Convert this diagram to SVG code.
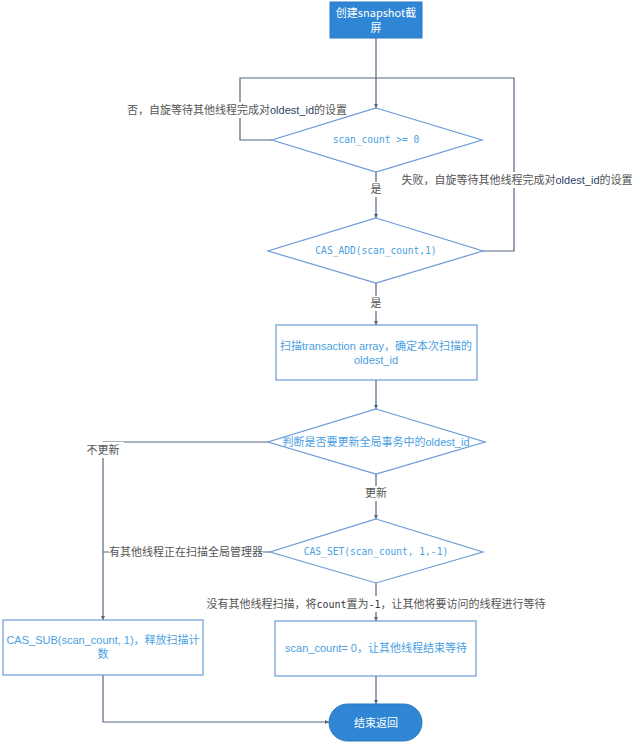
<svg xmlns="http://www.w3.org/2000/svg" width="640" height="744" viewBox="0 0 640 744">
<defs>
<marker id="arr" markerWidth="4" markerHeight="4" refX="4" refY="2" orient="auto" markerUnits="userSpaceOnUse">
<path d="M0,0 L4,2 L0,4 z" fill="#55677f"/>
</marker>
<style>
.bg{fill:#ffffff}
.conn{fill:none;stroke:#55677f;stroke-width:1.2}
.shape{fill:#ffffff;stroke:#6a9bd6;stroke-width:1.2}
.term{fill:#2f86d4;stroke:#2a78c0;stroke-width:1}
.wt{font-family:"Noto Sans CJK SC","Liberation Sans",sans-serif;font-size:11px;fill:#ffffff;text-anchor:middle}
.nt{font-family:"Liberation Sans","Noto Sans CJK SC",sans-serif;font-size:11px;fill:#4a9fe2;text-anchor:middle}
.mono{font-family:"DejaVu Sans Mono",monospace;font-size:9.6px;fill:#4a9fe2;text-anchor:middle}
.lab{font-family:"Noto Sans CJK SC","Liberation Sans",sans-serif;font-size:11px;fill:#555555;text-anchor:middle}
.lbg{fill:#ffffff}
.ol{font-family:"Liberation Sans",sans-serif;fill:#2b3f6a}
.lm{font-family:"DejaVu Sans Mono",monospace;font-size:10px;fill:#333333}
</style>
</defs>
<rect class="bg" x="0" y="0" width="640" height="744"/>

<g id="connectors">
<path class="conn" d="M376,38 V108" marker-end="url(#arr)"/>
<path class="conn" d="M272,140 H240 V78 H376"/>
<path class="conn" d="M483,251 H514 V78 H376"/>
<path class="conn" d="M376,172 V218" marker-end="url(#arr)"/>
<path class="conn" d="M376,283 V325" marker-end="url(#arr)"/>
<path class="conn" d="M376,380 V409" marker-end="url(#arr)"/>
<path class="conn" d="M268,442 H103 V620" marker-end="url(#arr)"/>
<path class="conn" d="M376,474 V519" marker-end="url(#arr)"/>
<path class="conn" d="M270,552 H103"/>
<path class="conn" d="M376,583 V621" marker-end="url(#arr)"/>
<path class="conn" d="M103,675 V722 H329" marker-end="url(#arr)"/>
<path class="conn" d="M376,676 V704" marker-end="url(#arr)"/>
</g>

<g id="labels">
<rect class="lbg" x="128" y="102" width="218" height="16"/>
<text class="lab" x="237" y="114">否，自旋等待其他线程完成对<tspan class="ol">oldest_id</tspan>的设置</text>
<rect class="lbg" x="402" y="172" width="232" height="16"/>
<text class="lab" x="517" y="184">失败，自旋等待其他线程完成对<tspan class="ol">oldest_id</tspan>的设置</text>
<rect class="lbg" x="368" y="182" width="16" height="15"/>
<text class="lab" x="376" y="193">是</text>
<rect class="lbg" x="368" y="296" width="16" height="15"/>
<text class="lab" x="376" y="307">是</text>
<rect class="lbg" x="82" y="442" width="42" height="16"/>
<text class="lab" x="103" y="454">不更新</text>
<rect class="lbg" x="364" y="486" width="24" height="15"/>
<text class="lab" x="376" y="497">更新</text>
<rect class="lbg" x="109" y="544" width="154" height="16"/>
<text class="lab" x="186" y="556">有其他线程正在扫描全局管理器</text>
<rect class="lbg" x="206" y="596" width="340" height="16"/>
<text class="lab" x="376" y="608">没有其他线程扫描，将<tspan class="lm">count</tspan>置为<tspan class="lm">-1</tspan>，让其他将要访问的线程进行等待</text>
</g>

<g id="start">
<rect class="term" x="330" y="2" width="92" height="36"/>
<text class="wt" x="376" y="17">创建snapshot截</text>
<text class="wt" x="376" y="32">屏</text>
</g>

<g id="check-count">
<polygon class="shape" points="376,108 482,140 376,172 272,140"/>
<text class="mono" x="376" y="143">scan_count &gt;= 0</text>
</g>

<g id="cas-add">
<polygon class="shape" points="376,218 483,251 376,283 268,251"/>
<text class="mono" x="376" y="254">CAS_ADD(scan_count,1)</text>
</g>

<g id="scan-array">
<rect class="shape" x="276" y="325" width="201" height="55"/>
<text class="nt" x="376" y="350">扫描transaction array，确定本次扫描的</text>
<text class="nt" x="376" y="364">oldest_id</text>
</g>

<g id="decide-update">
<polygon class="shape" points="376,409 485,442 376,474 268,442"/>
<text class="nt" x="376" y="446">判断是否要更新全局事务中的oldest_id</text>
</g>

<g id="cas-set">
<polygon class="shape" points="376,519 483,552 376,583 270,552"/>
<text class="mono" x="376" y="555">CAS_SET(scan_count, 1,-1)</text>
</g>

<g id="cas-sub">
<rect class="shape" x="3" y="620" width="200" height="55"/>
<text class="nt" x="103" y="644">CAS_SUB(scan_count, 1)，释放扫描计</text>
<text class="nt" x="103" y="658">数</text>
</g>

<g id="reset-count">
<rect class="shape" x="275" y="621" width="201" height="55"/>
<text class="nt" x="376" y="652">scan_count= 0，让其他线程结束等待</text>
</g>

<g id="end">
<rect class="term" x="329" y="704" width="93" height="37" rx="18.5" ry="18.5"/>
<text class="wt" x="376" y="727">结束返回</text>
</g>
</svg>
